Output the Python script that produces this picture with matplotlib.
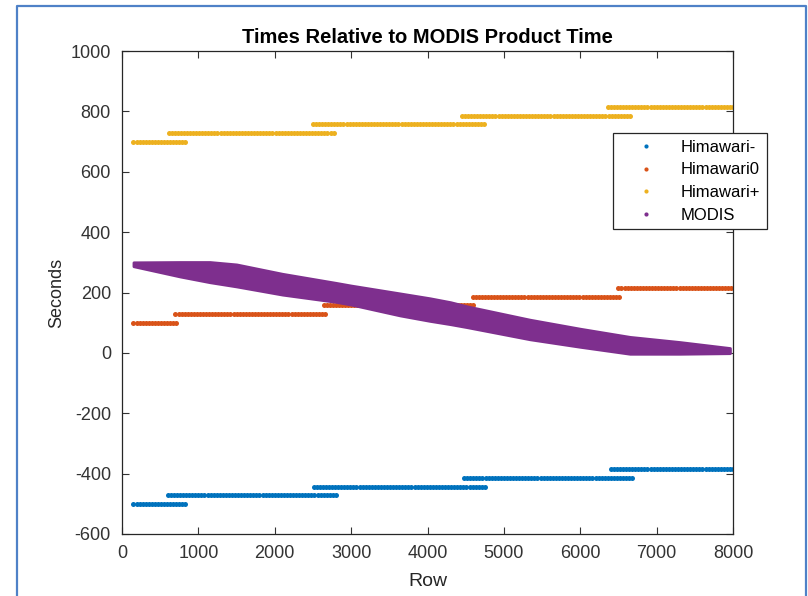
import numpy as np
import matplotlib.pyplot as plt
from matplotlib.lines import Line2D

plt.rcParams['font.family'] = ['Liberation Sans', 'DejaVu Sans']
plt.rcParams['axes.unicode_minus'] = False

# Himawari steps: (first row, last row, seconds)
him_minus_start = [150, 600, 2510, 4480, 6400]
him_minus_end = [850, 2820, 4780, 6680, 8000]
him_minus_val = [-500, -472, -444, -415, -386]

him_zero_start = [150, 700, 2640, 4590, 6500]
him_zero_end = [730, 2670, 4600, 6530, 8000]
him_zero_val = [100, 128, 157, 185, 214]

him_plus_start = [150, 610, 2500, 4450, 6360]
him_plus_end = [850, 2790, 4750, 6650, 8000]
him_plus_val = [700, 728, 757, 785, 814]

# MODIS band (upper and lower envelope of the point cloud)
modis_rows = [150, 760, 1150, 1500, 2100, 2800, 3000, 3640, 4030, 4300, 4520, 5340, 6000, 6650, 7300, 7960]
modis_top = [300, 301, 301, 293, 262, 232, 223, 197, 181, 168, 154, 110, 80, 53, 36, 16]
modis_bot = [287, 253, 234, 220, 193, 169, 160, 124, 106, 95, 85, 45, 20, -3, -3, -1]

c_minus = '#0072BD'
c_zero = '#D95319'
c_plus = '#EDB120'
c_modis = '#7E2F8E'


def steps(starts, ends, vals, spacing=40):
    xs, ys = [], []
    for s, e, v in zip(starts, ends, vals):
        r = np.arange(s, e + 1, spacing)
        xs.append(r)
        ys.append(np.full(len(r), v))
    return np.concatenate(xs), np.concatenate(ys)


fig = plt.figure(figsize=(8.08, 5.96), dpi=100)
ax = fig.add_axes([122 / 808, 1 - 534 / 596, 611 / 808, 483 / 596])

x, y = steps(him_minus_start, him_minus_end, him_minus_val)
ax.plot(x, y, 'o', color=c_minus, markersize=3.6, markeredgewidth=0, label='Himawari-')
x, y = steps(him_zero_start, him_zero_end, him_zero_val)
ax.plot(x, y, 'o', color=c_zero, markersize=3.6, markeredgewidth=0, label='Himawari0')
x, y = steps(him_plus_start, him_plus_end, him_plus_val)
ax.plot(x, y, 'o', color=c_plus, markersize=3.6, markeredgewidth=0, label='Himawari+')

ax.fill_between(modis_rows, modis_bot, modis_top, color=c_modis, linewidth=2,
                edgecolor=c_modis, joinstyle='round', capstyle='round', zorder=3)

ax.set_xlim(0, 8000)
ax.set_ylim(-600, 1000)
ax.set_xticks(np.arange(0, 8001, 1000))
ax.set_yticks(np.arange(-600, 1001, 200))
ax.tick_params(direction='in', length=5, width=0.8, top=True, right=True,
               labelsize=13, colors='#333333')
ax.tick_params(axis='y', pad=8)
ax.tick_params(axis='x', pad=8)
for s in ax.spines.values():
    s.set_color('#262626')
    s.set_linewidth(0.9)

ax.set_xlabel('Row', fontsize=14, color='#262626', labelpad=8)
ax.set_ylabel('Seconds', fontsize=13, color='#262626', labelpad=4)
ax.set_title('Times Relative to MODIS Product Time', fontsize=14.5, fontweight='bold', pad=6)

# legend shows small dots, as in the original
labels = ['Himawari-', 'Himawari0', 'Himawari+', 'MODIS']
handles = [Line2D([], [], marker='o', linestyle='', color=c, markersize=3, markeredgewidth=0)
           for c in (c_minus, c_zero, c_plus, c_modis)]
leg = fig.legend(handles, labels, loc='upper left', bbox_to_anchor=(613 / 808, 1 - 133 / 596),
                 bbox_transform=fig.transFigure, fontsize=12, fancybox=False,
                 edgecolor='#262626', framealpha=1, handlelength=3.1, handletextpad=0.55,
                 borderpad=0.4, labelspacing=0.46, borderaxespad=0)
leg.get_frame().set_linewidth(0.9)

# screenshot frame
fig.add_artist(Line2D([17 / 808, 17 / 808, 806 / 808, 806 / 808],
                      [0, 1 - 5.5 / 596, 1 - 5.5 / 596, 0],
                      transform=fig.transFigure, color='#4F81C7', linewidth=1.6))

fig.savefig('out.png', dpi=100)
